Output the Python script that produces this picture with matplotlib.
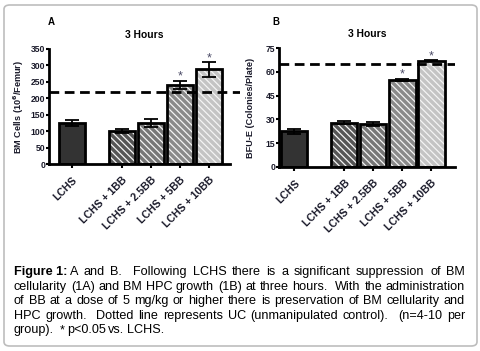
import numpy as np
import matplotlib
matplotlib.use("Agg")
import matplotlib.pyplot as plt
from matplotlib.patches import FancyBboxPatch

plt.rcParams['font.family'] = ['Liberation Sans', 'DejaVu Sans']
plt.rcParams['hatch.linewidth'] = 0.9

groups = ["LCHS", "LCHS + 1BB", "LCHS + 2.5BB", "LCHS + 5BB", "LCHS + 10BB"]
bm_cells = [125, 100, 125, 240, 288]
bm_err = [8, 6, 12, 13, 22]
bm_uc = 220
bfu_e = [22.5, 28, 27, 55, 67]
bfu_err = [1.5, 0.7, 1.2, 0.5, 0.3]
bfu_uc = 65
signif = [False, False, False, True, True]

pos = np.array([0, 1.72, 2.72, 3.72, 4.72])
colors = ["#333333", "#555555", "#777777", "#8a8a8a", "#c4c4c4"]
hatches = [None, "\\\\\\\\\\", "\\\\\\\\\\", "\\\\\\\\\\", "\\\\\\\\\\"]

caption = [
    "A and B.  Following LCHS there is a significant suppression of BM",
    "cellularity (1A) and BM HPC growth (1B) at three hours.  With the administration",
    "of BB at a dose of 5 mg/kg or higher there is preservation of BM cellularity and",
    "HPC growth.  Dotted line represents UC (unmanipulated control).  (n=4-10 per",
    "group).  * p<0.05 vs. LCHS.",
]

W, H = 481, 351
fig = plt.figure(figsize=(W / 100, H / 100), dpi=100)


def panel(rect, vals, errs, uc, ymax, yticks, ylabel, letter, xlim, lx, ly, ylx):
    ax = fig.add_axes(rect)
    for i in range(len(vals)):
        if hatches[i] is None:
            ax.bar(pos[i], vals[i], 0.9, color=colors[i], linewidth=0, zorder=2)
        else:
            ax.bar(pos[i], vals[i], 0.9, color=colors[i], edgecolor="#f4f4f4",
                   hatch=hatches[i], linewidth=0, zorder=2)
        ax.bar(pos[i], vals[i], 0.9, fill=False, edgecolor="black",
               linewidth=2, zorder=3)
    ax.errorbar(pos, vals, yerr=errs, fmt="none", ecolor="black",
                elinewidth=1.3, capsize=5, capthick=1.3, zorder=4)
    for i in range(len(vals)):
        if signif[i]:
            ax.annotate("*", (pos[i], vals[i] + errs[i]), xytext=(0, 0.8),
                        textcoords="offset points", ha="center",
                        va="baseline", fontsize=9, color="#4a4a66")
    ax.axhline(uc, color="black", lw=2, dashes=(3.5, 2), zorder=5)
    ax.set_xlim(*xlim)
    ax.set_ylim(0, ymax)
    ax.set_yticks(yticks)
    ax.set_xticks(pos)
    ax.set_xticklabels(groups, rotation=45, ha="right", rotation_mode="anchor",
                       fontsize=7.6, fontweight="bold", color="#1a1a2a")
    for lab in ax.get_yticklabels():
        lab.set_fontweight("bold")
        lab.set_fontsize(6.2)
        lab.set_color("#1a1a2a")
    ax.tick_params(axis="y", width=1.5, length=2.5, pad=0.3)
    ax.tick_params(axis="x", width=1.5, length=3, pad=5)
    for s in ["top", "right"]:
        ax.spines[s].set_visible(False)
    for s in ["left", "bottom"]:
        ax.spines[s].set_linewidth(2)
    ax.set_ylabel(ylabel, fontsize=6.6, fontweight="bold", color="#1a1a2a",
                  va="center")
    ax.yaxis.set_label_coords(ylx, 0.5)
    ax.set_title("3 Hours", fontsize=7.4, fontweight="bold", pad=8)
    fig.text(lx / W, 1 - ly / H, letter, fontsize=7, fontweight="bold",
             ha="center", va="center")
    return ax


axA = panel([49 / W, 1 - 164 / H, 191 / W, 115 / H], bm_cells, bm_err, bm_uc,
            350, range(0, 351, 50), "BM Cells (10$^\\mathbf{6}$/Femur)", "A",
            (-0.79, 5.79), 51, 22, -30 / 191)
axA.spines["bottom"].set_bounds(-0.79, 5.45)
axB = panel([279 / W, 1 - 167 / H, 176 / W, 119 / H], bfu_e, bfu_err, bfu_uc,
            75, range(0, 76, 15), "BFU-E (Colonies/Plate)", "B",
            (-0.53, 5.53), 276, 22, -28 / 176)

# rounded border
fig.patches.append(FancyBboxPatch((4 / W, 5 / H), 473 / W, 341 / H,
                                  boxstyle="round,pad=0,rounding_size=0.012",
                                  transform=fig.transFigure, fill=False,
                                  edgecolor="#bdbdbd", linewidth=1.2))

# justified caption
renderer = fig.canvas.get_renderer()
x0, x1 = 14, 465
ys = [272, 287, 301, 316, 330]
fs = 9.1


def width_px(t):
    return t.get_window_extent(renderer=renderer).width


for li, line in enumerate(caption):
    start = x0
    if li == 0:
        t = fig.text(x0 / W, 1 - ys[li] / H, "Figure 1:", fontsize=fs,
                     fontweight="bold", va="center", ha="left")
        start = x0 + width_px(t) + 2.5
    words = line.split(" ")
    texts = []
    for w in words:
        if w == "":
            texts.append(None)
            continue
        texts.append(fig.text(0, 1 - ys[li] / H, w, fontsize=fs, va="center",
                              ha="left"))
    total = sum(width_px(t) for t in texts if t is not None)
    gaps = len(words) - 1
    if li < len(caption) - 1:
        gap = (x1 - start - total) / gaps
    else:
        gap = 2.6
    x = start
    for t in texts:
        if t is not None:
            t.set_x(x / W)
            x += width_px(t)
        x += gap

fig.savefig("out.png", dpi=100)
